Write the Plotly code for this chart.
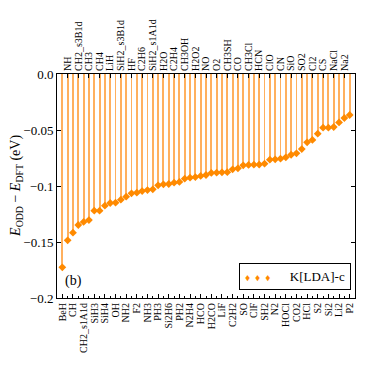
import plotly.graph_objects as go

molecules = [
    "BeH", "NH", "CH", "CH2_s3B1d", "CH2_s1A1d", "CH3", "SiH3", "CH4", "SiH4", "LiH",
    "OH", "SiH2_s3B1d", "NH2", "HF", "F2", "C2H6", "NH3", "SiH2_s1A1d", "PH3", "H2O",
    "Si2H6", "C2H4", "PH2", "CH3OH", "N2H4", "H2O2", "HCO", "NO", "H2CO", "O2",
    "LiF", "CH3SH", "C2H2", "CO", "SO", "CH3Cl", "ClF", "HCN", "SH2", "ClO",
    "N2", "CN", "HOCl", "SiO", "CO2", "SO2", "HCl", "Cl2", "S2", "CS",
    "Si2", "NaCl", "Li2", "Na2", "P2",
]
delta_e = [
    -0.1726, -0.1485, -0.1417, -0.1348, -0.1321, -0.1304, -0.1220, -0.1220, -0.1176, -0.1152,
    -0.1149, -0.1122, -0.1095, -0.1065, -0.1060, -0.1045, -0.1036, -0.1030, -0.0994, -0.0985,
    -0.0982, -0.0970, -0.0964, -0.0935, -0.0926, -0.0920, -0.0910, -0.0902, -0.0883, -0.0881,
    -0.0878, -0.0877, -0.0851, -0.0842, -0.0815, -0.0812, -0.0810, -0.0809, -0.0801, -0.0765,
    -0.0762, -0.0756, -0.0744, -0.0721, -0.0708, -0.0670, -0.0610, -0.0589, -0.0533, -0.0479,
    -0.0479, -0.0473, -0.0432, -0.0393, -0.0366,
]
y_ticks = [0.0, -0.05, -0.1, -0.15, -0.2]
y_ticktext = ["0.0", "\u22120.05", "\u22120.1", "\u22120.15", "\u22120.2"]

ORANGE = "#ff8a00"
SERIF = "Liberation Serif"

idx = list(range(len(molecules)))
bottom_idx = idx[0::2]
top_idx = idx[1::2]

fig = go.Figure()
# stems
fig.add_trace(go.Bar(
    x=idx, y=delta_e, base=0, width=0.36,
    marker=dict(color="rgba(255,150,40,0.75)", line=dict(width=0)),
    showlegend=False, hoverinfo="skip",
))
fig.add_trace(go.Scatter(
    x=idx, y=delta_e, mode="markers", name="K[LDA]-c",
    marker=dict(symbol="diamond", size=6, color=ORANGE),
    showlegend=False,
))
# dummy trace to activate the top axis
fig.add_trace(go.Scatter(x=[top_idx[0]], y=[None], xaxis="x2", showlegend=False))

axis_common = dict(
    range=[-1, len(molecules)],
    tickangle=-90,
    tickfont=dict(family=SERIF, size=10, color="black"),
    ticks="inside", ticklen=4, tickcolor="black",
    showgrid=False, zeroline=False, automargin=False,
    showline=True, linecolor="black", linewidth=1,
)

# page body adds an 8px offset, margins compensate for it
fig.update_layout(
    width=374, height=374,
    margin=dict(l=49, r=27, t=66, b=84),
    paper_bgcolor="white", plot_bgcolor="white",
    bargap=0,
    font=dict(family=SERIF, color="black"),
    xaxis=dict(
        **axis_common,
        tickmode="array", tickvals=bottom_idx,
        ticktext=[molecules[i] for i in bottom_idx],
        minor=dict(ticks="inside", tickvals=top_idx, ticklen=2, tickcolor="black"),
    ),
    xaxis2=dict(
        **axis_common,
        overlaying="x", side="top", anchor="y",
        tickmode="array", tickvals=top_idx,
        ticktext=[molecules[i] for i in top_idx],
    ),
    yaxis=dict(
        range=[-0.2, 0.0], automargin=False,
        tickmode="array", tickvals=y_ticks, ticktext=y_ticktext,
        tickfont=dict(family=SERIF, size=13, color="black"),
        ticks="inside", ticklen=4, tickcolor="black",
        showgrid=False, zeroline=False,
        showline=True, linecolor="black", linewidth=1, mirror="ticks",
    ),
    annotations=[
        dict(text="<i>E</i><sub>ODD</sub> \u2212 <i>E</i><sub>DFT</sub> (eV)",
             textangle=-90, x=-0.138, y=0.5, xref="paper", yref="paper",
             xanchor="center", yanchor="middle", showarrow=False,
             font=dict(family=SERIF, size=14, color="black")),
        dict(text="(b)", x=0.02, y=0.03, xref="paper", yref="paper",
             xanchor="left", yanchor="bottom", showarrow=False,
             font=dict(family=SERIF, size=14, color="black")),
        dict(text=f"<span style='color:{ORANGE};font-size:10px'>\u2666  \u2666  \u2666</span>      K[LDA]-c",
             x=0.985, y=0.035, xref="paper", yref="paper",
             xanchor="right", yanchor="bottom", showarrow=False,
             bordercolor="black", borderwidth=1, borderpad=5, bgcolor="white",
             font=dict(family=SERIF, size=13, color="black")),
    ],
)

fig.write_html("out.html")
